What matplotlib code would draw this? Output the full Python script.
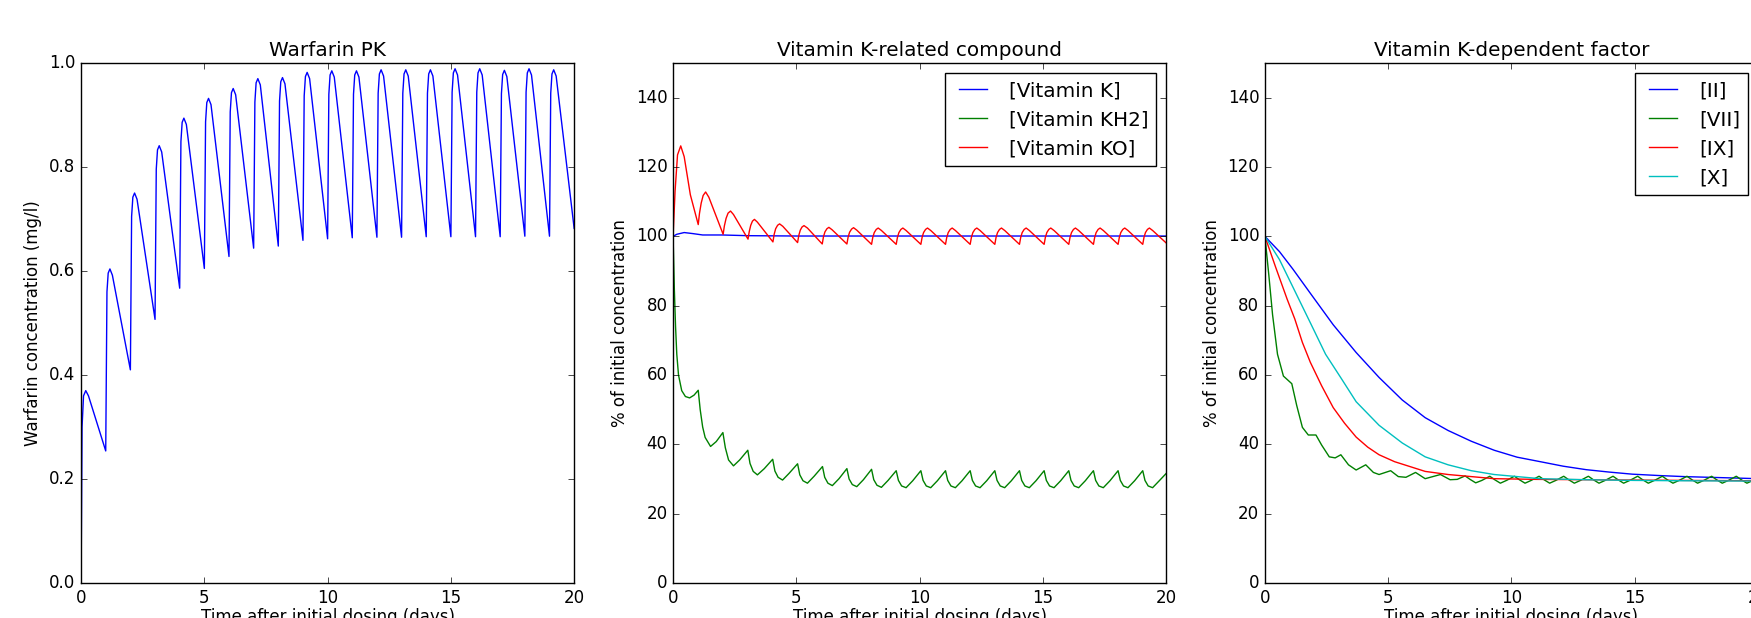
import matplotlib
matplotlib.use('Agg')
import matplotlib.pyplot as plt

plt.style.use('classic')
plt.rcParams['font.size'] = 12
plt.rcParams['figure.facecolor'] = 'white'
plt.rcParams['savefig.facecolor'] = 'white'

## Warfarin PK (mg/l): trough, rise, near-peak, peak, after-peak for each daily dose
warf_t = [0.00, 0.04, 0.10, 0.19, 0.30,
          1.00, 1.05, 1.10, 1.17, 1.27,
          2.00, 2.05, 2.10, 2.17, 2.27,
          3.00, 3.05, 3.10, 3.17, 3.27,
          4.00, 4.05, 4.10, 4.17, 4.27,
          5.00, 5.05, 5.10, 5.17, 5.27,
          6.00, 6.05, 6.10, 6.17, 6.27,
          7.00, 7.05, 7.10, 7.17, 7.27,
          8.00, 8.05, 8.10, 8.17, 8.27,
          9.00, 9.05, 9.10, 9.17, 9.27,
          10.00, 10.05, 10.10, 10.17, 10.27,
          11.00, 11.05, 11.10, 11.17, 11.27,
          12.00, 12.05, 12.10, 12.17, 12.27,
          13.00, 13.05, 13.10, 13.17, 13.27,
          14.00, 14.05, 14.10, 14.17, 14.27,
          15.00, 15.05, 15.10, 15.17, 15.27,
          16.00, 16.05, 16.10, 16.17, 16.27,
          17.00, 17.05, 17.10, 17.17, 17.27,
          18.00, 18.05, 18.10, 18.17, 18.27,
          19.00, 19.05, 19.10, 19.17, 19.27,
          20.00]
warf_c = [0.000, 0.300, 0.360, 0.370, 0.360,
          0.254, 0.560, 0.596, 0.604, 0.592,
          0.410, 0.705, 0.742, 0.750, 0.738,
          0.507, 0.796, 0.833, 0.841, 0.829,
          0.567, 0.849, 0.886, 0.894, 0.882,
          0.605, 0.887, 0.924, 0.932, 0.920,
          0.628, 0.906, 0.943, 0.951, 0.939,
          0.644, 0.925, 0.962, 0.970, 0.958,
          0.648, 0.927, 0.964, 0.972, 0.960,
          0.659, 0.937, 0.974, 0.982, 0.970,
          0.662, 0.940, 0.977, 0.985, 0.973,
          0.664, 0.940, 0.977, 0.985, 0.973,
          0.665, 0.942, 0.979, 0.987, 0.975,
          0.665, 0.942, 0.979, 0.987, 0.975,
          0.666, 0.942, 0.979, 0.987, 0.975,
          0.666, 0.944, 0.981, 0.989, 0.977,
          0.666, 0.944, 0.981, 0.989, 0.977,
          0.666, 0.941, 0.978, 0.986, 0.974,
          0.667, 0.944, 0.981, 0.989, 0.977,
          0.667, 0.942, 0.979, 0.987, 0.975,
          0.682]

## Vitamin K-related compounds (% of initial)
vk_t = [0, 0.15, 0.45, 0.8, 1.2, 2, 3, 5, 20]
vk_y = [100, 100.6, 101.1, 100.8, 100.4, 100.4, 100.2, 100.1, 100.1]

vko_t = [0.00, 0.08, 0.18, 0.31, 0.45, 0.70,
         1.02, 1.07, 1.14, 1.22, 1.32, 1.45,
         2.03, 2.08, 2.15, 2.23, 2.33, 2.45,
         3.04, 3.09, 3.15, 3.22, 3.30, 3.42,
         4.05, 4.10, 4.16, 4.24, 4.32, 4.45,
         5.05, 5.10, 5.16, 5.23, 5.31, 5.45,
         6.05, 6.10, 6.16, 6.24, 6.32, 6.45,
         7.05, 7.10, 7.16, 7.24, 7.32, 7.45,
         8.05, 8.10, 8.16, 8.24, 8.32, 8.45,
         9.05, 9.10, 9.16, 9.24, 9.32, 9.45,
         10.05, 10.10, 10.16, 10.24, 10.32, 10.45,
         11.05, 11.10, 11.16, 11.24, 11.32, 11.45,
         12.05, 12.10, 12.16, 12.24, 12.32, 12.45,
         13.05, 13.10, 13.16, 13.24, 13.32, 13.45,
         14.05, 14.10, 14.16, 14.24, 14.32, 14.45,
         15.05, 15.10, 15.16, 15.24, 15.32, 15.45,
         16.05, 16.10, 16.16, 16.24, 16.32, 16.45,
         17.05, 17.10, 17.16, 17.24, 17.32, 17.45,
         18.05, 18.10, 18.16, 18.24, 18.32, 18.45,
         19.05, 19.10, 19.16, 19.24, 19.32, 19.45,
         20.00]
vko_y = [100.0, 113.0, 123.5, 126.1, 123.0, 112.0,
         103.4, 106.6, 109.6, 111.8, 112.8, 111.3,
         100.6, 103.0, 105.2, 106.7, 107.3, 106.3,
         99.2, 101.4, 103.2, 104.4, 104.9, 104.1,
         98.4, 100.6, 102.2, 103.2, 103.6, 102.9,
         98.2, 100.3, 101.8, 102.7, 103.1, 102.4,
         97.8, 99.9, 101.3, 102.2, 102.6, 101.9,
         97.8, 99.8, 101.2, 102.1, 102.5, 101.8,
         97.7, 99.7, 101.1, 102.0, 102.4, 101.7,
         97.7, 99.7, 101.1, 102.0, 102.4, 101.7,
         97.7, 99.7, 101.1, 102.0, 102.4, 101.7,
         97.7, 99.7, 101.1, 102.0, 102.4, 101.7,
         97.7, 99.7, 101.1, 102.0, 102.4, 101.7,
         97.7, 99.7, 101.1, 102.0, 102.4, 101.7,
         97.7, 99.7, 101.1, 102.0, 102.4, 101.7,
         97.7, 99.7, 101.1, 102.0, 102.4, 101.7,
         97.7, 99.7, 101.1, 102.0, 102.4, 101.7,
         97.7, 99.7, 101.1, 102.0, 102.4, 101.7,
         97.7, 99.7, 101.1, 102.0, 102.4, 101.7,
         97.7, 99.7, 101.1, 102.0, 102.4, 101.7,
         98.1]

vkh2_t = [0.00, 0.05, 0.10, 0.15, 0.22, 0.35, 0.50, 0.67, 0.85,
          1.02, 1.10, 1.20, 1.30, 1.52, 1.75,
          2.02, 2.12, 2.25, 2.45, 2.70,
          3.03, 3.12, 3.25, 3.42, 3.70,
          4.04, 4.13, 4.26, 4.44, 4.70,
          5.05, 5.14, 5.27, 5.45, 5.72,
          6.06, 6.15, 6.28, 6.46, 6.73,
          7.05, 7.14, 7.27, 7.45, 7.72,
          8.05, 8.14, 8.27, 8.45, 8.72,
          9.05, 9.14, 9.27, 9.45, 9.72,
          10.05, 10.14, 10.27, 10.45, 10.72,
          11.05, 11.14, 11.27, 11.45, 11.72,
          12.05, 12.14, 12.27, 12.45, 12.72,
          13.05, 13.14, 13.27, 13.45, 13.72,
          14.05, 14.14, 14.27, 14.45, 14.72,
          15.05, 15.14, 15.27, 15.45, 15.72,
          16.05, 16.14, 16.27, 16.45, 16.72,
          17.05, 17.14, 17.27, 17.45, 17.72,
          18.05, 18.14, 18.27, 18.45, 18.72,
          19.05, 19.14, 19.27, 19.45, 19.72,
          20.00]
vkh2_y = [100.0, 85.0, 74.0, 66.0, 60.0, 55.5, 53.8, 53.4, 54.2,
          55.6, 50.0, 45.0, 42.0, 39.4, 40.8,
          43.4, 39.0, 35.5, 33.8, 35.5,
          38.3, 34.5, 32.2, 31.2, 33.0,
          35.7, 32.3, 30.5, 29.7, 31.6,
          34.4, 31.2, 29.5, 28.8, 30.8,
          33.6, 30.5, 28.8, 28.1, 30.1,
          33.0, 30.0, 28.4, 27.8, 29.8,
          32.8, 29.8, 28.2, 27.6, 29.6,
          32.4, 29.6, 28.0, 27.5, 29.5,
          32.4, 29.6, 28.0, 27.5, 29.5,
          32.4, 29.6, 28.0, 27.5, 29.5,
          32.4, 29.6, 28.0, 27.5, 29.5,
          32.4, 29.6, 28.0, 27.5, 29.5,
          32.4, 29.6, 28.0, 27.5, 29.5,
          32.4, 29.6, 28.0, 27.5, 29.5,
          32.4, 29.6, 28.0, 27.5, 29.5,
          32.4, 29.6, 28.0, 27.5, 29.5,
          32.4, 29.6, 28.0, 27.5, 29.5,
          32.4, 29.6, 28.0, 27.5, 29.5,
          31.6]

## Vitamin K-dependent factors (% of initial)
f2_t = [0, 0.59, 1.14, 1.84, 2.77, 3.70, 4.63, 5.57, 6.5, 7.43, 8.37, 9.3,
        10.23, 11.17, 12.1, 13.03, 13.97, 14.9, 16, 17, 18, 19, 20]
f2_y = [100, 95.6, 90.5, 83.6, 74.5, 66.5, 59.3, 52.8, 47.7, 44.0, 40.9, 38.3,
        36.3, 35.0, 33.7, 32.7, 32.0, 31.4, 31.0, 30.7, 30.5, 30.3, 30.1]

f7_t = [0, 0.16, 0.31, 0.51, 0.75, 1.09, 1.29, 1.52, 1.76, 2.07, 2.30, 2.61,
        2.85, 3.08, 3.39, 3.70, 4.09, 4.40, 4.63, 5.10, 5.41, 5.72, 6.11, 6.50,
        7.12, 7.51, 7.80,
        8.12, 8.32, 8.55, 8.80, 9.12, 9.32, 9.55, 9.80,
        10.12, 10.32, 10.55, 10.80, 11.12, 11.32, 11.55, 11.80,
        12.12, 12.32, 12.55, 12.80, 13.12, 13.32, 13.55, 13.80,
        14.12, 14.32, 14.55, 14.80, 15.12, 15.32, 15.55, 15.80,
        16.12, 16.32, 16.55, 16.80, 17.12, 17.32, 17.55, 17.80,
        18.12, 18.32, 18.55, 18.80, 19.12, 19.32, 19.55, 19.80, 20.0]
f7_y = [100, 88.7, 77.4, 66.0, 59.7, 57.5, 51.2, 44.9, 42.7, 42.7, 39.8, 36.4,
        36.1, 37.0, 34.1, 32.6, 34.1, 31.9, 31.3, 32.4, 30.7, 30.5, 31.9, 30.1,
        31.3, 29.8, 29.9,
        30.9, 29.9, 28.9, 29.6, 30.8, 29.8, 28.8, 29.6,
        30.8, 29.8, 28.8, 29.6, 30.8, 29.8, 28.8, 29.6,
        30.8, 29.8, 28.8, 29.6, 30.8, 29.8, 28.8, 29.6,
        30.8, 29.8, 28.8, 29.6, 30.8, 29.8, 28.8, 29.6,
        30.8, 29.8, 28.8, 29.6, 30.8, 29.8, 28.8, 29.6,
        30.8, 29.8, 28.8, 29.6, 30.8, 29.8, 28.8, 29.6, 29.3]

f9_t = [0, 0.44, 0.9, 1.21, 1.52, 1.84, 2.3, 2.77, 3.23, 3.70, 4.17, 4.63,
        5.26, 5.88, 6.5, 7.43, 8.37, 9.3, 11, 13, 15, 17, 20]
f9_y = [100, 91.0, 81.9, 76.2, 69.4, 63.7, 56.9, 50.6, 46.1, 42.1, 39.2, 37.0,
        35.0, 33.6, 32.2, 31.3, 30.7, 30.1, 29.9, 29.8, 29.7, 29.6, 29.5]

f10_t = [0, 0.59, 1.14, 1.84, 2.46, 3.08, 3.70, 4.63, 5.57, 6.5, 7.43, 8.37,
         9.3, 10.23, 11.17, 13, 15, 17, 20]
f10_y = [100, 93.3, 85.3, 75.1, 66.0, 59.2, 52.3, 45.5, 40.4, 36.4, 34.1, 32.4,
         31.3, 30.7, 30.1, 29.8, 29.6, 29.5, 29.4]

xlabel = 'Time after initial dosing (days)'
pct_ticks = [0, 20, 40, 60, 80, 100, 120, 140]

fig = plt.figure(figsize=(17.51, 6.18), dpi=100)
ax1 = fig.add_axes([0.0463, 0.0566, 0.2816, 0.8414])
ax2 = fig.add_axes([0.3844, 0.0566, 0.2816, 0.8414])
ax3 = fig.add_axes([0.7224, 0.0566, 0.2816, 0.8414])

ax1.plot(warf_t, warf_c, 'b-')
ax1.set_xlim(0, 20)
ax1.set_ylim(0, 1.0)
ax1.set_title('Warfarin PK')
ax1.set_xlabel(xlabel, labelpad=1)
ax1.set_ylabel('Warfarin concentration (mg/l)')

ax2.plot(vk_t, vk_y, 'b-', label='[Vitamin K]')
ax2.plot(vkh2_t, vkh2_y, 'g-', label='[Vitamin KH2]')
ax2.plot(vko_t, vko_y, 'r-', label='[Vitamin KO]')
ax2.set_xlim(0, 20)
ax2.set_ylim(0, 150)
ax2.set_yticks(pct_ticks)
ax2.set_title('Vitamin K-related compound')
ax2.set_xlabel(xlabel, labelpad=1)
ax2.set_ylabel('% of initial concentration')
ax2.legend(loc='upper right')

ax3.plot(f2_t, f2_y, 'b-', label='[II]')
ax3.plot(f7_t, f7_y, 'g-', label='[VII]')
ax3.plot(f9_t, f9_y, 'r-', label='[IX]')
ax3.plot(f10_t, f10_y, 'c-', label='[X]')
ax3.set_xlim(0, 20)
ax3.set_ylim(0, 150)
ax3.set_yticks(pct_ticks)
ax3.set_title('Vitamin K-dependent factor')
ax3.set_xlabel(xlabel, labelpad=1)
ax3.set_ylabel('% of initial concentration')
ax3.legend(loc='upper right')

plt.savefig('out.png', dpi=100)
